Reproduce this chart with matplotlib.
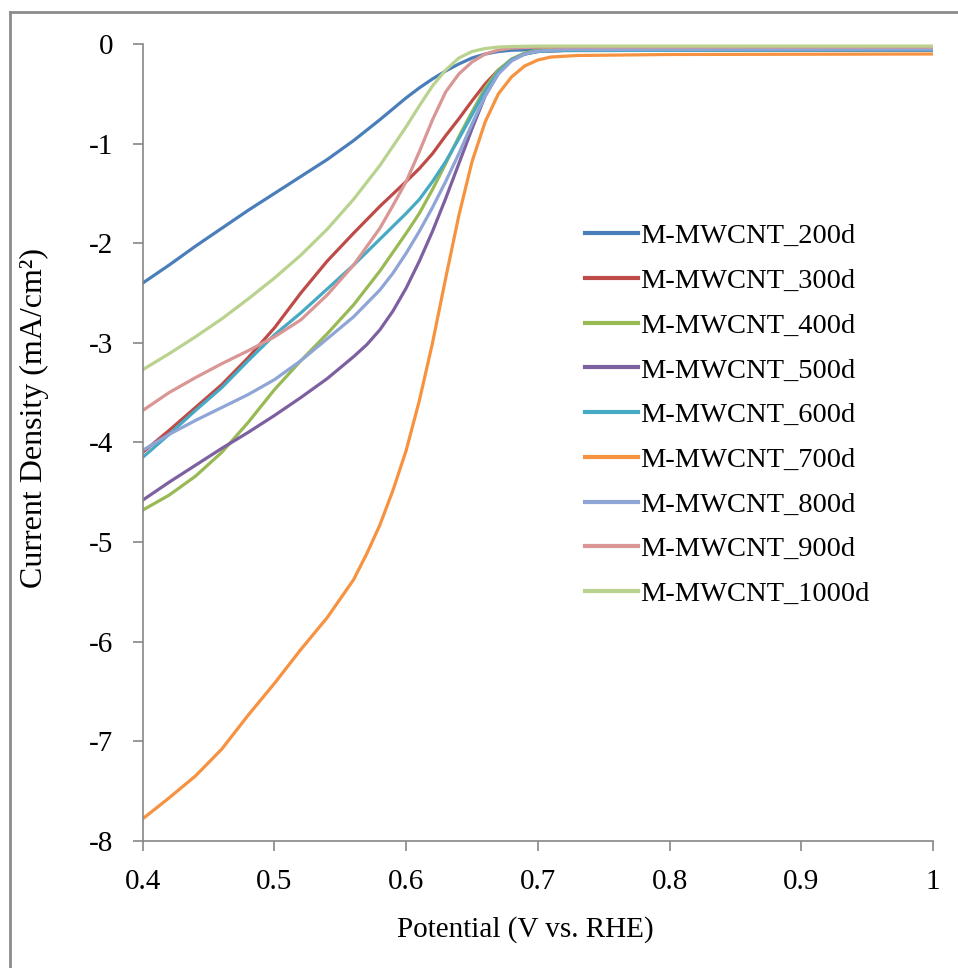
import matplotlib
matplotlib.use("Agg")
import matplotlib.pyplot as plt
from matplotlib.lines import Line2D

plt.rcParams['font.family'] = ['Liberation Serif', 'DejaVu Serif']
plt.rcParams['axes.unicode_minus'] = False

labels = ["M-MWCNT_200d", "M-MWCNT_300d", "M-MWCNT_400d", "M-MWCNT_500d",
          "M-MWCNT_600d", "M-MWCNT_700d", "M-MWCNT_800d", "M-MWCNT_900d",
          "M-MWCNT_1000d"]
colors = ["#4A7EBB", "#BE4B48", "#98B954", "#7D60A0", "#46AAC5",
          "#F69240", "#8EA5D6", "#D99694", "#B9D38F"]

x_200 = [0.40, 0.42, 0.44, 0.46, 0.48, 0.50, 0.52, 0.54, 0.56, 0.58, 0.60, 0.61, 0.62,
         0.63, 0.64, 0.65, 0.66, 0.67, 0.68, 0.70, 1.00]
y_200 = [-2.40, -2.22, -2.03, -1.85, -1.67, -1.50, -1.33, -1.16, -0.97, -0.76, -0.54, -0.44,
         -0.35, -0.27, -0.20, -0.14, -0.10, -0.075, -0.062, -0.056, -0.055]

x_300 = [0.40, 0.42, 0.44, 0.46, 0.48, 0.50, 0.52, 0.54, 0.56, 0.58, 0.60, 0.61, 0.62,
         0.63, 0.64, 0.65, 0.66, 0.67, 0.68, 0.69, 0.70, 0.72, 1.00]
y_300 = [-4.10, -3.88, -3.65, -3.42, -3.15, -2.85, -2.50, -2.18, -1.90, -1.63, -1.38, -1.25,
         -1.10, -0.92, -0.75, -0.57, -0.40, -0.26, -0.16, -0.10, -0.075, -0.065, -0.06]

x_400 = [0.40, 0.42, 0.44, 0.46, 0.48, 0.50, 0.52, 0.54, 0.56, 0.58, 0.60, 0.61, 0.62,
         0.63, 0.64, 0.65, 0.66, 0.67, 0.68, 0.69, 0.70, 0.72, 1.00]
y_400 = [-4.68, -4.53, -4.34, -4.10, -3.80, -3.47, -3.18, -2.91, -2.62, -2.28, -1.90, -1.70,
         -1.46, -1.20, -0.93, -0.68, -0.44, -0.26, -0.15, -0.09, -0.06, -0.045, -0.04]

x_500 = [0.40, 0.42, 0.44, 0.46, 0.48, 0.50, 0.52, 0.54, 0.56, 0.57, 0.58, 0.59, 0.60,
         0.61, 0.62, 0.63, 0.64, 0.65, 0.66, 0.67, 0.68, 0.69, 0.70, 0.72, 1.00]
y_500 = [-4.58, -4.40, -4.23, -4.06, -3.90, -3.73, -3.55, -3.36, -3.14, -3.02, -2.87, -2.68,
         -2.45, -2.18, -1.88, -1.55, -1.20, -0.85, -0.52, -0.29, -0.16, -0.10, -0.07, -0.062, -0.06]

x_600 = [0.40, 0.42, 0.44, 0.46, 0.48, 0.50, 0.52, 0.54, 0.56, 0.58, 0.60, 0.61, 0.62,
         0.63, 0.64, 0.65, 0.66, 0.67, 0.68, 0.69, 0.70, 0.72, 1.00]
y_600 = [-4.15, -3.92, -3.68, -3.45, -3.18, -2.92, -2.70, -2.46, -2.22, -1.96, -1.70, -1.56,
         -1.38, -1.18, -0.95, -0.71, -0.47, -0.28, -0.16, -0.10, -0.075, -0.065, -0.06]

x_700 = [0.40, 0.42, 0.44, 0.46, 0.48, 0.50, 0.52, 0.54, 0.56, 0.57, 0.58, 0.59, 0.60,
         0.61, 0.62, 0.63, 0.64, 0.65, 0.66, 0.67, 0.68, 0.69, 0.70, 0.71, 0.73, 0.80, 1.00]
y_700 = [-7.78, -7.57, -7.35, -7.08, -6.74, -6.42, -6.08, -5.76, -5.38, -5.12, -4.83, -4.48,
         -4.08, -3.58, -3.00, -2.35, -1.72, -1.18, -0.78, -0.50, -0.33, -0.22, -0.16, -0.13,
         -0.115, -0.105, -0.10]

x_800 = [0.40, 0.42, 0.44, 0.46, 0.48, 0.50, 0.52, 0.54, 0.56, 0.58, 0.59, 0.60, 0.61,
         0.62, 0.63, 0.64, 0.65, 0.66, 0.67, 0.68, 0.69, 0.70, 0.72, 1.00]
y_800 = [-4.08, -3.92, -3.78, -3.65, -3.52, -3.37, -3.18, -2.96, -2.74, -2.47, -2.30, -2.10,
         -1.88, -1.64, -1.38, -1.10, -0.80, -0.52, -0.30, -0.17, -0.10, -0.07, -0.055, -0.05]

x_900 = [0.40, 0.42, 0.44, 0.46, 0.48, 0.50, 0.52, 0.54, 0.56, 0.58, 0.59, 0.60, 0.61,
         0.62, 0.63, 0.64, 0.65, 0.66, 0.67, 0.68, 0.70, 1.00]
y_900 = [-3.68, -3.50, -3.35, -3.21, -3.08, -2.94, -2.77, -2.52, -2.22, -1.85, -1.62, -1.38,
         -1.08, -0.76, -0.48, -0.30, -0.18, -0.10, -0.06, -0.04, -0.03, -0.03]

x_1000 = [0.40, 0.42, 0.44, 0.46, 0.48, 0.50, 0.52, 0.54, 0.56, 0.58, 0.60, 0.61, 0.62,
          0.63, 0.64, 0.65, 0.66, 0.67, 0.68, 0.70, 1.00]
y_1000 = [-3.27, -3.11, -2.94, -2.76, -2.56, -2.35, -2.12, -1.86, -1.56, -1.22, -0.83, -0.62,
          -0.42, -0.26, -0.14, -0.075, -0.045, -0.03, -0.025, -0.02, -0.02]

xs = [x_200, x_300, x_400, x_500, x_600, x_700, x_800, x_900, x_1000]
ys = [y_200, y_300, y_400, y_500, y_600, y_700, y_800, y_900, y_1000]

xticks = [0.4, 0.5, 0.6, 0.7, 0.8, 0.9, 1.0]
xticklabels = ["0.4", "0.5", "0.6", "0.7", "0.8", "0.9", "1"]
yticks = [0, -1, -2, -3, -4, -5, -6, -7, -8]
yticklabels = ["0", "-1", "-2", "-3", "-4", "-5", "-6", "-7", "-8"]

fig = plt.figure(figsize=(9.58, 9.68), dpi=100)
ax = fig.add_axes([0.149, 0.1315, 0.825, 0.823])

for xv, yv, c, lab in zip(xs, ys, colors, labels):
    ax.plot(xv, yv, color=c, lw=2.3, label=lab, solid_joinstyle='round')

ax.set_xlim(0.4, 1.0)
ax.set_ylim(-8, 0)
ax.set_xticks(xticks)
ax.set_xticklabels(xticklabels)
ax.set_yticks(yticks)
ax.set_yticklabels(yticklabels)

grey = "#868686"
for s in ["top", "right"]:
    ax.spines[s].set_visible(False)
for s in ["left", "bottom"]:
    ax.spines[s].set_color(grey)
    ax.spines[s].set_linewidth(1.2)
ax.tick_params(axis='both', direction='out', length=7, width=1.2, color=grey,
               labelsize=21, labelcolor='black')
ax.tick_params(axis='x', pad=13.5)
ax.tick_params(axis='y', pad=14)

ax.set_xlabel("Potential (V vs. RHE)", fontsize=21)
ax.set_ylabel("Current Density (mA/cm²)", fontsize=23)
ax.xaxis.set_label_coords(0.4835, -0.095)
ax.yaxis.set_label_coords(-0.118, 0.53)

handles = [Line2D([], [], color=c, lw=3) for c in colors]
leg = ax.legend(handles, labels, loc='upper left', bbox_to_anchor=(0.5597, 0.775),
                frameon=False, fontsize=20.5, handlelength=1.85, handletextpad=0.1,
                labelspacing=0.66, borderpad=0, borderaxespad=0)

# outer figure frame (left and top edges visible)
fig.add_artist(Line2D([10/958, 10/958], [0, 1 - 12/968], transform=fig.transFigure,
                      color="#8c8c8c", lw=2))
fig.add_artist(Line2D([10/958, 1], [1 - 12/968, 1 - 12/968], transform=fig.transFigure,
                      color="#8c8c8c", lw=2))

fig.savefig("out.png", dpi=100)
